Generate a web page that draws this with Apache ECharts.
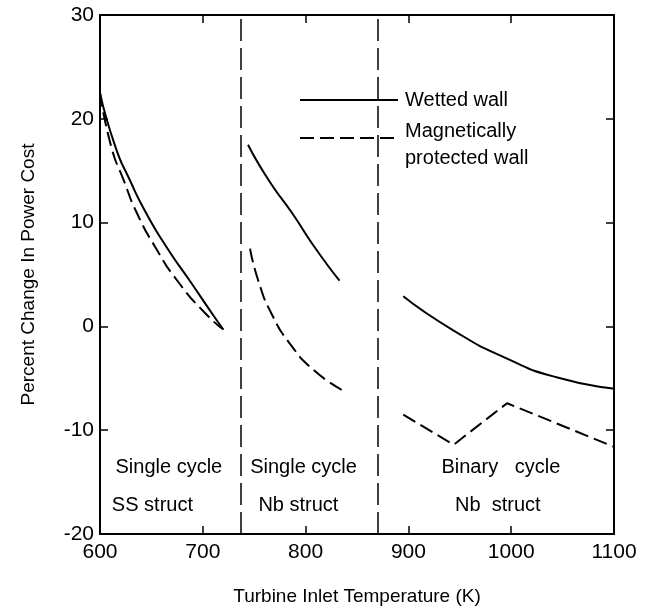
<!DOCTYPE html>
<html><head><meta charset="utf-8">
<script src="https://cdn.jsdelivr.net/npm/echarts@6/dist/echarts.min.js"></script>
<style>html,body{margin:0;padding:0;background:#fff}#c{width:647px;height:615px}</style>
</head><body><div id="c"></div>
<script>
// Temperatures (K) and percent change
const wettedSS = [[600,22.5],[615,17.3],[629,14.1],[645,10.9],[665,7.6],[688,4.3],[710,1.1],[720,-0.3]];
const magneticSS = [[600,22.5],[611,17.3],[623,14.1],[636,10.9],[654,7.6],[676,4.3],[704,1.1],[720,-0.3]];
const wettedNb = [[744,17.5],[764,14.1],[787,10.9],[809,7.6],[833,4.4]];
const magneticNb = [[746,7.5],[754,4.4],[767,1.2],[785,-1.7],[809,-4.3],[837,-6.2]];
const wettedBinary = [[895,2.9],[944,-0.4],[996,-3.1],[1044,-4.9],[1100,-6.0]];
const magneticBinary = [[895,-8.5],[944,-11.4],[996,-7.4],[1100,-11.6]];
const separators = [737, 870];
const regionLabels = [
  {x:667, y:-13.6, text:'Single cycle'},
  {x:651, y:-17.3, text:'SS struct'},
  {x:798, y:-13.6, text:'Single cycle'},
  {x:793, y:-17.3, text:'Nb struct'},
  {x:990, y:-13.6, text:'Binary   cycle'},
  {x:987, y:-17.3, text:'Nb  struct'}
];
const xTicks = {min:600, max:1100, interval:100};
const yTicks = {min:-20, max:30, interval:10};

const FONT = 'Liberation Sans';
const solid = {color:'#000', width:2, type:'solid'};
const dashed = {color:'#000', width:2, type:[14,6]};
function lineSeries(name, data, style, smooth){
  return {name, type:'line', data, symbol:'none', smooth: smooth, lineStyle: style, z:3, silent:true, animation:false};
}
const chart = echarts.init(document.getElementById('c'));
const axisCommon = {
  axisLine:{show:true, onZero:false, lineStyle:{color:'#000', width:2}},
  axisTick:{show:true, inside:true, length:8, lineStyle:{color:'#000', width:1.5}},
  splitLine:{show:false}
};
const plain = v => String(v);
const legendGraphics = [
  {type:'line', shape:{x1:300, y1:100, x2:398, y2:100}, style:{stroke:'#000', lineWidth:2}},
  {type:'text', x:405, y:100, style:{text:'Wetted wall', font:'20px "Liberation Sans"', fill:'#000', verticalAlign:'middle'}},
  {type:'line', shape:{x1:300, y1:138, x2:398, y2:138}, style:{stroke:'#000', lineWidth:2, lineDash:[14,6]}},
  {type:'text', x:405, y:131, style:{text:'Magnetically', font:'20px "Liberation Sans"', fill:'#000', verticalAlign:'middle'}},
  {type:'text', x:405, y:158, style:{text:'protected wall', font:'20px "Liberation Sans"', fill:'#000', verticalAlign:'middle'}}
];
chart.setOption({
  animation:false,
  backgroundColor:'#fff',
  grid:{left:100, right:33, top:15, bottom:81},
  xAxis:[
    Object.assign({type:'value', position:'bottom', min:xTicks.min, max:xTicks.max, interval:xTicks.interval,
      name:'Turbine Inlet Temperature (K)', nameLocation:'middle', nameGap:53,
      nameTextStyle:{fontFamily:FONT, fontSize:19, color:'#000'},
      axisLabel:{fontFamily:FONT, fontSize:21, color:'#000', margin:8, formatter:plain}}, axisCommon),
    Object.assign({type:'value', position:'top', min:xTicks.min, max:xTicks.max, interval:xTicks.interval,
      axisLabel:{show:false}}, axisCommon)
  ],
  yAxis:[
    Object.assign({type:'value', position:'left', min:yTicks.min, max:yTicks.max, interval:yTicks.interval,
      name:'Percent Change In Power Cost', nameLocation:'middle', nameGap:62,
      nameTextStyle:{fontFamily:FONT, fontSize:19, color:'#000'},
      axisLabel:{fontFamily:FONT, fontSize:21, color:'#000', margin:6, formatter:plain}}, axisCommon),
    Object.assign({type:'value', position:'right', min:yTicks.min, max:yTicks.max, interval:yTicks.interval,
      axisLabel:{show:false}}, axisCommon)
  ],
  series:[
    lineSeries('Wetted wall', wettedSS, solid, 0.6),
    lineSeries('Magnetically protected wall', magneticSS, dashed, 0.6),
    lineSeries('Wetted wall', wettedNb, solid, 0.6),
    lineSeries('Magnetically protected wall', magneticNb, dashed, 0.6),
    lineSeries('Wetted wall', wettedBinary, solid, 0.6),
    lineSeries('Magnetically protected wall', magneticBinary, dashed, false),
    {type:'line', data:[], silent:true,
      markLine:{symbol:'none', silent:true, label:{show:false},
        lineStyle:{color:'#000', width:1.5, type:[22,7]},
        data: separators.map(v=>({xAxis:v}))}}
  ],
  graphic: legendGraphics
});
// region labels placed through the chart's own scales
const regionGraphics = regionLabels.map(r => {
  const p = chart.convertToPixel({xAxisIndex:0, yAxisIndex:0}, [r.x, r.y]);
  return {type:'text', x:p[0], y:p[1], style:{text:r.text, font:'20px "Liberation Sans"', fill:'#000', align:'center', verticalAlign:'middle'}};
});
chart.setOption({graphic: legendGraphics.concat(regionGraphics)});
</script></body></html>
